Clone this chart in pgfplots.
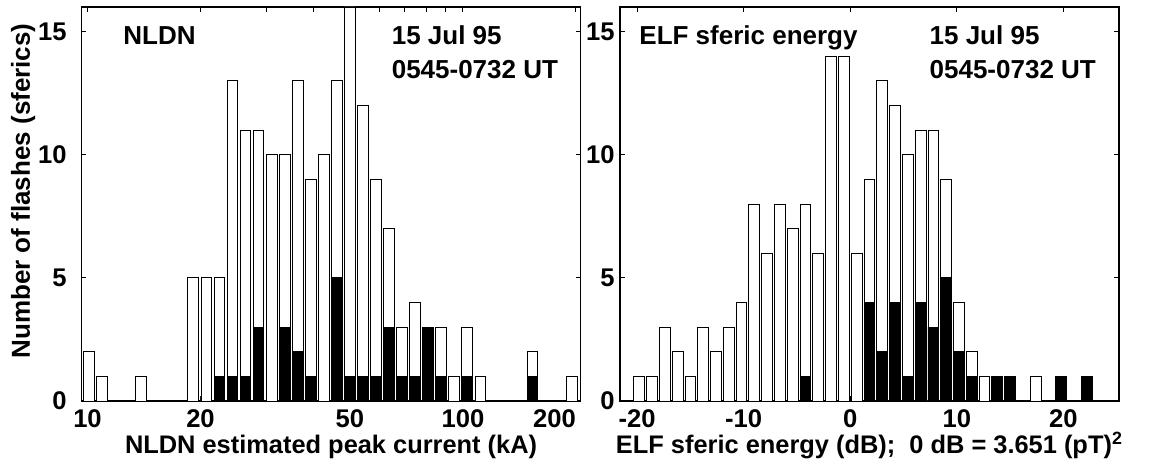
\documentclass[border=0pt]{standalone}
\usepackage{fontspec}
\setmainfont{Liberation Sans}
\usepackage{pgfplots}
\pgfplotsset{compat=1.18}

\newcommand{\tickfont}{\bfseries\fontsize{12.8}{12.8}\selectfont}
\newcommand{\labfont}{\bfseries\fontsize{12.7}{12.7}\selectfont}
\newcommand{\notefont}{\bfseries\fontsize{13}{13}\selectfont}

\pgfplotsset{
  histo/.style={
    scale only axis, width=249.4pt, height=197pt,
    ymin=0, ymax=16, ytick={0,5,10,15},
    tick align=inside, major tick length=2.3pt,
    axis line style={line width=0.7pt},
    every tick/.style={black, line width=0.5pt},
    /pgf/number format/assume math mode=true,
    ticklabel style={font=\tickfont},
    xticklabel style={anchor=base, inner sep=0pt, text depth=0pt, yshift=-13.35pt},
    yticklabel style={anchor=east, inner sep=0pt},
    xlabel style={at={(axis description cs:0.5,0)}, anchor=base,
      inner sep=0pt, yshift=-26.2pt, font=\labfont},
  },
  openbar/.style={ybar, bar width=5.4pt, bar shift=0pt, draw=black,
    fill=white, line width=0.45pt},
  solidbar/.style={ybar, bar width=5.4pt, bar shift=0pt, draw=black,
    fill=black, line width=0.45pt},
}

\begin{document}
\begin{tikzpicture}
\useasboundingbox (0,0) rectangle (575.5pt,233pt);

% Left panel: NLDN peak current (log bins)
\begin{axis}[histo,
  at={(40.85pt,32.5pt)}, anchor=south west,
  xmode=log, xmin=9.651, xmax=205.7, xminorticks=false,
  xtick={10,20,30,40,50,60,70,80,90,100,200},
  xticklabels={10,20,{},{},50,{},{},{},{},100,\makebox[0pt][r]{200}},
  yticklabel style={xshift=-7.35pt},
  xlabel={NLDN estimated peak current (kA)},
  ylabel={Number of flashes (sferics)},
  ylabel style={at={(axis description cs:-0.1176,0.533)}, anchor=center,
    inner sep=0pt, font=\bfseries\fontsize{13}{13}\selectfont},
]
\addplot[openbar] coordinates {
  (10.09,2) (10.93,1) (13.90,1) (19.13,5) (20.73,5) (22.46,5) (24.33,13)
  (26.36,11) (28.55,11) (30.93,10) (33.51,10) (36.30,13) (39.33,9)
  (42.60,10) (46.15,13) (49.99,16) (54.16,12) (58.67,9) (63.56,7)
  (68.86,3) (74.60,4) (80.81,3) (87.54,3) (94.84,1) (102.7,3) (111.3,1)
  (153.2,2) (194.8,1)
};
\addplot[solidbar] coordinates {
  (22.46,1) (24.33,1) (26.36,1) (28.55,3) (33.51,3) (36.30,2) (39.33,1)
  (46.15,5) (49.99,1) (54.16,1) (58.67,1) (63.56,3) (68.86,1) (74.60,1)
  (80.81,3) (87.54,1) (102.7,1) (153.2,1)
};
\node[anchor=base west, inner sep=0pt, font=\notefont] at (rel axis cs:0.0827,0.9036) {NLDN};
\node[anchor=base west, inner sep=0pt, font=\notefont] at (rel axis cs:0.6209,0.9036) {15 Jul 95};
\node[anchor=base west, inner sep=0pt, font=\notefont] at (rel axis cs:0.6209,0.819) {0545-0732 UT};
\end{axis}

% Right panel: ELF sferic energy (dB bins)
\begin{axis}[histo,
  at={(310pt,32.5pt)}, anchor=south west,
  xmin=-21.6, xmax=25.2,
  xtick={-20,-10,0,10,20},
  yticklabel style={xshift=-2.5pt},
  xlabel={ELF sferic energy (dB);\ \ 0 dB = 3.651 (pT)\textsuperscript{2}},
]
\addplot[openbar] coordinates {
  (-19.8,1) (-18.6,1) (-17.4,3) (-16.2,2) (-15.0,1) (-13.8,3) (-12.6,2)
  (-11.4,3) (-10.2,4) (-9.0,8) (-7.8,6) (-6.6,8) (-5.4,7) (-4.2,8)
  (-3.0,6) (-1.8,14) (-0.6,14) (0.6,6) (1.8,9) (3.0,13) (4.2,12)
  (5.4,10) (6.6,11) (7.8,11) (9.0,9) (10.2,4) (11.4,2) (12.6,1)
  (13.8,1) (15.0,1) (17.4,1) (19.8,1) (22.2,1)
};
\addplot[solidbar] coordinates {
  (-4.2,1) (1.8,4) (3.0,2) (4.2,4) (5.4,1) (6.6,4) (7.8,3) (9.0,5)
  (10.2,2) (11.4,1) (13.8,1) (15.0,1) (19.8,1) (22.2,1)
};
\node[anchor=base west, inner sep=0pt, font=\notefont] at (rel axis cs:0.0381,0.9036) {ELF sferic energy};
\node[anchor=base west, inner sep=0pt, font=\notefont] at (rel axis cs:0.620,0.9036) {15 Jul 95};
\node[anchor=base west, inner sep=0pt, font=\notefont] at (rel axis cs:0.620,0.819) {0545-0732 UT};
\end{axis}
\end{tikzpicture}
\end{document}
